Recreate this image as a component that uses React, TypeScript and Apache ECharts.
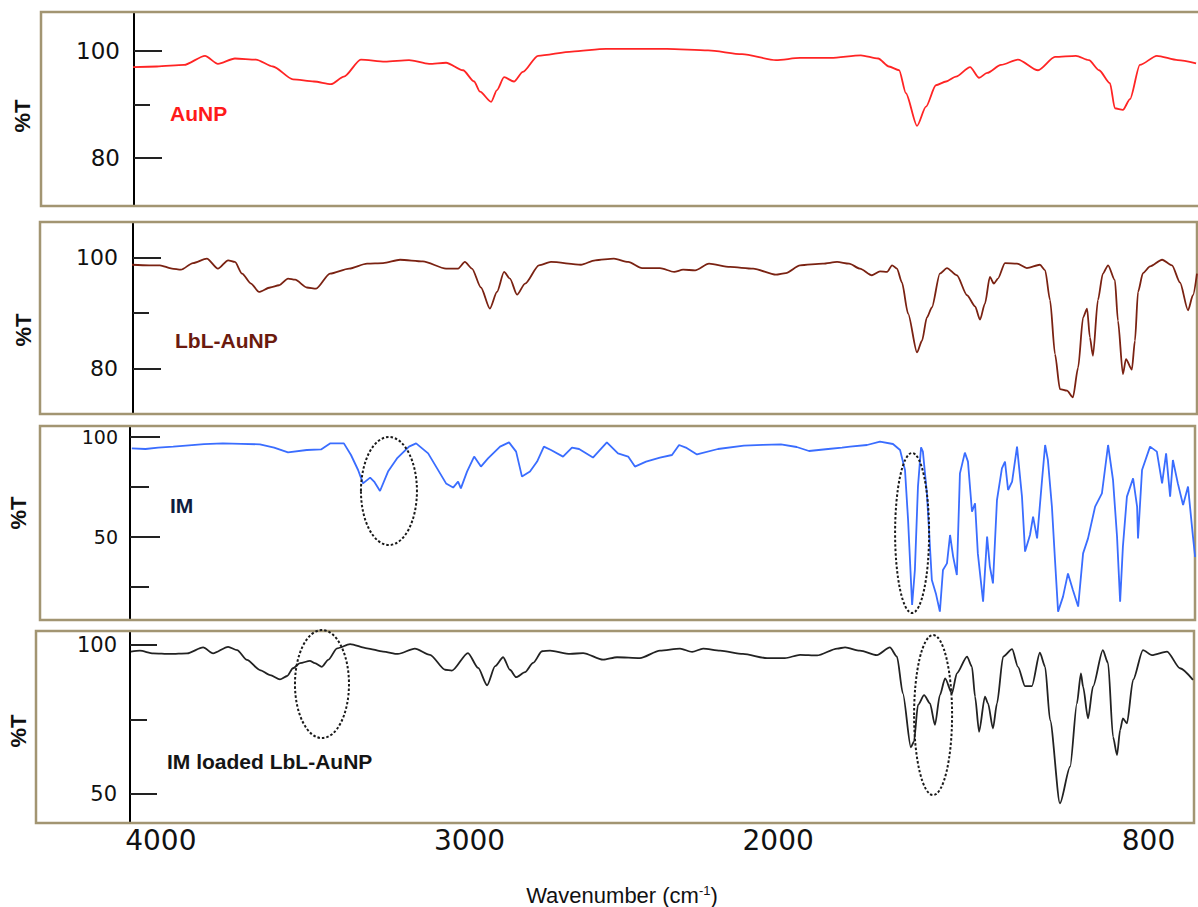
import React, { useEffect, useRef } from "react";
import * as echarts from "echarts";

// ---------- DATA (wavenumber cm-1, %T) ----------
const X_TICKS = [4000, 3000, 2000, 800];

const AUNP_TICKS_MAJOR = [80, 100];
const AUNP_TICKS_MINOR = [90];
const LBL_TICKS_MAJOR = [80, 100];
const LBL_TICKS_MINOR = [90];
const IM_TICKS_MAJOR = [50, 100];
const IM_TICKS_MINOR = [25, 75];
const IMLBL_TICKS_MAJOR = [50, 100];
const IMLBL_TICKS_MINOR = [75];

const auNP: [number, number][] = [
  [4090, 97.0], [4013, 97.1], [3925, 97.4], [3857, 99.1], [3815, 97.6], [3760, 98.6],
  [3692, 98.4], [3637, 97.1], [3572, 94.7], [3504, 94.3], [3449, 93.8], [3407, 95.2],
  [3352, 98.4], [3274, 98.0], [3196, 98.3], [3131, 97.6], [3076, 97.8], [3021, 96.4],
  [2985, 94.3], [2966, 92.4], [2930, 90.5], [2911, 92.7], [2888, 95.1], [2856, 94.3],
  [2827, 96.1], [2778, 99.1], [2668, 99.9], [2558, 100.4], [2360, 100.4], [2227, 100.1],
  [2117, 99.4], [2007, 98.3], [1929, 98.7], [1829, 98.7], [1732, 99.2], [1676, 98.6],
  [1641, 97.1], [1608, 96.4], [1586, 92.1], [1550, 86.0], [1521, 89.6], [1489, 93.6],
  [1456, 94.3], [1424, 95.2], [1378, 97.0], [1349, 95.0], [1323, 95.9], [1278, 97.4],
  [1223, 98.4], [1158, 96.4], [1103, 98.9], [1035, 99.1], [993, 98.3], [960, 96.4],
  [925, 94.0], [909, 89.3], [883, 89.0], [860, 91.0], [828, 97.4], [773, 99.1],
  [705, 98.3], [646, 97.7],
];

const lblAuNP: [number, number][] = [
  [4094, 98.7], [4038, 98.6], [4003, 98.6], [3964, 98.0], [3935, 97.8], [3896, 99.0],
  [3851, 99.8], [3815, 98.0], [3782, 99.5], [3760, 99.2], [3737, 97.1], [3708, 95.3],
  [3682, 93.8], [3646, 94.6], [3617, 95.0], [3588, 96.2], [3565, 96.0], [3527, 94.6],
  [3497, 94.4], [3452, 97.1], [3390, 98.0], [3332, 98.9], [3280, 99.0], [3225, 99.6],
  [3151, 99.3], [3076, 98.0], [3037, 98.0], [3015, 99.2], [2992, 98.0], [2963, 94.6],
  [2934, 90.8], [2911, 93.8], [2888, 97.4], [2869, 96.2], [2846, 93.3], [2820, 95.3],
  [2775, 98.6], [2736, 99.2], [2639, 98.7], [2593, 99.5], [2532, 99.8], [2486, 99.2],
  [2441, 98.1], [2383, 98.1], [2337, 97.4], [2308, 97.8], [2269, 97.7], [2224, 98.9],
  [2156, 98.3], [2081, 98.0], [2007, 96.9], [1975, 97.2], [1929, 98.6], [1855, 98.9],
  [1809, 99.2], [1770, 98.9], [1735, 98.0], [1696, 96.8], [1670, 97.5], [1647, 97.4],
  [1631, 98.6], [1615, 98.0], [1599, 95.5], [1579, 89.9], [1550, 82.9], [1534, 85.0],
  [1518, 89.2], [1502, 91.0], [1476, 97.1], [1453, 98.1], [1421, 96.8], [1388, 93.2],
  [1362, 91.2], [1346, 88.8], [1330, 91.7], [1314, 96.5], [1301, 95.3], [1288, 96.2],
  [1265, 99.0], [1226, 98.9], [1194, 98.1], [1152, 98.7], [1135, 97.7], [1119, 92.3],
  [1103, 82.6], [1087, 76.3], [1064, 76.0], [1045, 74.8], [1028, 80.2], [1012, 89.2],
  [999, 90.8], [990, 85.6], [980, 82.3], [964, 92.3], [948, 97.1], [931, 98.6],
  [909, 95.9], [899, 88.6], [883, 79.0], [873, 81.7], [854, 79.8], [844, 85.0],
  [834, 93.8], [818, 97.2], [795, 98.4], [756, 99.6], [724, 98.6], [698, 95.5],
  [672, 90.5], [656, 93.2], [643, 97.1],
];

const im: [number, number][] = [
  [4094, 94.3], [4050, 94.0], [4009, 94.7], [3960, 95.2], [3919, 95.7], [3860, 96.4],
  [3799, 96.8], [3740, 96.6], [3679, 96.3], [3633, 94.7],
  [3588, 92.3], [3527, 93.5], [3481, 93.8], [3452, 96.8], [3407, 96.8], [3384, 91.0],
  [3361, 83.5], [3345, 76.8], [3322, 79.7], [3309, 77.7], [3290, 73.0], [3264, 82.7],
  [3235, 89.3], [3196, 95.2], [3173, 96.8], [3134, 91.8], [3105, 84.3], [3076, 76.8],
  [3053, 74.7], [3037, 77.7], [3028, 74.3], [3008, 82.7], [2985, 90.2], [2963, 85.2],
  [2940, 89.3], [2901, 95.2], [2872, 97.3], [2849, 92.7], [2830, 80.2], [2804, 82.7],
  [2781, 87.7], [2759, 95.2], [2736, 93.5], [2697, 90.2], [2668, 94.7], [2645, 94.0],
  [2600, 89.7], [2555, 97.3], [2519, 91.8], [2486, 90.2], [2464, 85.2], [2428, 87.7],
  [2383, 89.7], [2344, 91.0], [2321, 96.0], [2299, 94.7], [2263, 91.3], [2195, 94.0],
  [2111, 95.7], [2050, 96.1], [1991, 96.3], [1940, 95.0], [1900, 93.0], [1838, 94.0],
  [1793, 94.7], [1767, 95.2],
  [1712, 96.0], [1670, 97.7], [1628, 96.5], [1605, 93.5], [1589, 83.5], [1579, 58.5],
  [1566, 16.0], [1557, 33.5], [1547, 75.2], [1537, 94.8], [1531, 92.7], [1518, 71.8],
  [1502, 28.5], [1489, 21.8], [1476, 12.7], [1466, 33.5], [1453, 36.8], [1443, 51.0],
  [1433, 40.2], [1421, 31.0], [1411, 81.8], [1395, 92.2], [1385, 87.7], [1372, 62.7],
  [1362, 66.8], [1353, 41.8], [1336, 17.7], [1323, 50.2], [1314, 35.2], [1304, 26.8],
  [1291, 68.5], [1275, 84.3], [1265, 87.7], [1255, 73.5], [1242, 77.7], [1226, 95.2],
  [1210, 70.2], [1200, 42.7], [1184, 51.0], [1174, 60.2], [1161, 49.3], [1145, 78.5],
  [1135, 96.0], [1126, 88.5], [1113, 65.2], [1103, 38.5], [1093, 12.7], [1077, 20.2],
  [1061, 31.8], [1045, 23.5], [1028, 15.2], [1012, 41.8], [996, 49.3], [973, 65.2],
  [951, 71.8], [931, 96.0], [915, 78.5], [902, 50.2], [892, 17.7], [883, 45.2],
  [870, 70.2], [850, 79.3], [837, 65.2], [834, 49.3], [821, 83.5], [795, 95.2],
  [773, 92.7], [756, 76.8], [743, 91.8], [730, 70.2], [721, 88.5], [705, 76.8],
  [688, 66.0], [672, 75.2], [656, 50.2], [649, 40.0],
];

const imLbL: [number, number][] = [
  [4097, 97.8], [4068, 98.1], [4025, 97.2], [3970, 97.0], [3915, 97.2], [3863, 99.2],
  [3831, 97.2], [3782, 99.4], [3753, 98.3], [3721, 95.0], [3679, 91.6], [3646, 89.9],
  [3614, 88.5], [3591, 89.6], [3572, 92.2], [3549, 93.9], [3517, 94.7], [3501, 93.9],
  [3478, 92.7], [3458, 95.0], [3429, 98.9], [3387, 100.3], [3332, 98.9], [3280, 97.8],
  [3232, 97.0], [3177, 98.8], [3128, 96.7], [3079, 91.7], [3057, 91.4], [3005, 97.3],
  [2972, 92.3], [2943, 86.5], [2917, 92.9], [2891, 95.9], [2869, 91.7], [2849, 89.2],
  [2820, 90.9], [2794, 94.0], [2765, 97.9], [2739, 98.1], [2674, 97.0], [2632, 97.3],
  [2567, 95.1], [2522, 95.9], [2448, 95.6], [2383, 98.1], [2318, 98.8], [2279, 97.7],
  [2243, 98.8], [2188, 98.1], [2114, 97.0], [2036, 95.6], [1978, 95.6], [1929, 96.7],
  [1874, 96.5], [1809, 98.8], [1783, 99.2], [1735, 98.1], [1680, 96.6], [1638, 99.2],
  [1615, 96.1], [1596, 83.8], [1570, 65.7], [1560, 67.6], [1547, 79.9], [1527, 83.2],
  [1508, 80.4], [1492, 73.2], [1476, 83.2], [1459, 88.8], [1437, 83.8], [1421, 90.5],
  [1388, 96.1], [1372, 92.7], [1362, 82.7], [1349, 70.9], [1330, 82.7], [1320, 80.4],
  [1304, 72.0], [1291, 80.4], [1271, 96.1], [1242, 98.6], [1223, 92.7], [1200, 86.2],
  [1178, 86.2], [1152, 97.4], [1135, 92.7], [1119, 74.8], [1087, 46.9], [1054, 59.2],
  [1032, 80.4], [1019, 90.5], [1012, 86.0], [996, 75.4], [980, 86.0], [948, 98.3],
  [931, 93.9], [915, 69.2], [902, 63.1], [892, 71.5], [883, 75.4], [870, 73.7],
  [850, 88.3], [818, 98.3], [789, 96.6], [740, 97.8], [698, 92.2], [656, 88.3],
];

// annotation ellipses, centred in data coordinates
const ELLIPSES = [
  { panel: 2, wn: 3261, t: 73.0, rx: 28, ry: 54 },
  { panel: 2, wn: 1566, t: 52.0, rx: 17, ry: 80 },
  { panel: 3, wn: 3478, t: 86.9, rx: 27, ry: 54 },
  { panel: 3, wn: 1498, t: 76.5, rx: 19, ry: 80 },
];

// ---------- LAYOUT ----------
const WN_AT_X130 = 4100;
const WN_PER_PX = 3.24;

const PANELS = [
  {
    name: "AuNP", data: auNP, color: "#ff2424", labelColor: "#ff1a1a",
    left: 134, right: 1198, top: 12, bottom: 206, ymin: 71.03, ymax: 107.29,
    major: AUNP_TICKS_MAJOR, minor: AUNP_TICKS_MINOR, majorLen: 28, minorLen: 16,
    yFont: 23, yMargin: 14, frame: [41, 12, 1170, 194], pctT: [22, 116],
    label: [170, 113], smooth: 0.25,
  },
  {
    name: "LbL-AuNP", data: lblAuNP, color: "#7a2212", labelColor: "#6b1a0e",
    left: 133, right: 1197, top: 222, bottom: 414, ymin: 71.8, ymax: 106.4,
    major: LBL_TICKS_MAJOR, minor: LBL_TICKS_MINOR, majorLen: 28, minorLen: 16,
    yFont: 22, yMargin: 15, frame: [40, 222, 1157, 192], pctT: [23, 330],
    label: [175, 340], smooth: 0.25,
  },
  {
    name: "IM", data: im, color: "#3a6dff", labelColor: "#0f1c3f",
    left: 130, right: 1195, top: 426, bottom: 620, ymin: 8.5, ymax: 105.5,
    major: IM_TICKS_MAJOR, minor: IM_TICKS_MINOR, majorLen: 30, minorLen: 19,
    yFont: 19, yMargin: 12, frame: [40, 426, 1155, 194], pctT: [18, 513],
    label: [170, 505], smooth: false,
  },
  {
    name: "IM loaded LbL-AuNP", data: imLbL, color: "#222222", labelColor: "#151515",
    left: 130, right: 1194, top: 631, bottom: 823, ymin: 40.3, ymax: 104.7,
    major: IMLBL_TICKS_MAJOR, minor: IMLBL_TICKS_MINOR, majorLen: 27, minorLen: 17,
    yFont: 21, yMargin: 13, frame: [36, 631, 1158, 192], pctT: [18, 731],
    label: [167, 761], smooth: 0.25,
  },
];

const FRAME_COLOR = "#a29572";

function buildOption() {
  const grid: any[] = [];
  const xAxis: any[] = [];
  const yAxis: any[] = [];
  const series: any[] = [];
  PANELS.forEach((p, i) => {
    grid.push({ left: p.left, top: p.top, width: p.right - p.left, height: p.bottom - p.top, show: false });
    xAxis.push({
      type: "value",
      gridIndex: i,
      inverse: true,
      min: WN_AT_X130 - (p.right - 130) * WN_PER_PX,
      max: WN_AT_X130 - (p.left - 130) * WN_PER_PX,
      axisLine: { show: false },
      axisTick: { show: false },
      splitLine: { show: false },
      axisLabel:
        i === PANELS.length - 1
          ? {
              show: true,
              customValues: X_TICKS,
              formatter: (v: number) => String(Math.round(v)),
              fontSize: 28,
              fontFamily: "DejaVu Sans",
              color: "#111",
              margin: 3,
            }
          : { show: false },
    });
    yAxis.push({
      type: "value",
      gridIndex: i,
      position: "left",
      min: p.ymin,
      max: p.ymax,
      axisLine: { show: true, onZero: false, lineStyle: { color: "#000", width: 2 } },
      axisTick: { show: true, inside: true, length: p.majorLen, customValues: p.major, lineStyle: { color: "#222", width: 2 } },
      axisLabel: {
        show: true,
        customValues: p.major,
        formatter: (v: number) => String(Math.round(v)),
        margin: p.yMargin,
        fontSize: p.yFont,
        fontFamily: "DejaVu Sans",
        color: "#111",
      },
      splitLine: { show: false },
    });
    yAxis.push({
      type: "value",
      gridIndex: i,
      position: "left",
      offset: 0,
      min: p.ymin,
      max: p.ymax,
      axisLine: { show: false },
      axisTick: { show: true, inside: true, length: p.minorLen, customValues: p.minor, lineStyle: { color: "#222", width: 2 } },
      axisLabel: { show: false },
      splitLine: { show: false },
    });
    series.push({
      type: "line",
      name: p.name,
      xAxisIndex: i,
      yAxisIndex: i * 2,
      data: p.data,
      showSymbol: false,
      smooth: p.smooth,
      smoothMonotone: "x",
      lineStyle: { color: p.color, width: 1.8 },
      z: 5,
    });
  });
  return {
    animation: false,
    backgroundColor: "#ffffff",
    grid,
    xAxis,
    yAxis,
    series,
  };
}

export default function App() {
  const ref = useRef<HTMLDivElement>(null);
  useEffect(() => {
    document.body.style.margin = "0";
    if (!ref.current) return;
    const chart = echarts.init(ref.current, null, { renderer: "svg" });
    chart.setOption(buildOption());

    const graphics: any[] = [];
    PANELS.forEach((p) => {
      const [fx, fy, fw, fh] = p.frame;
      graphics.push({
        type: "rect",
        shape: { x: fx, y: fy, width: fw, height: fh },
        style: { fill: "none", stroke: FRAME_COLOR, lineWidth: 2.5 },
        z: 1,
        silent: true,
      });
      graphics.push({
        type: "text",
        x: p.pctT[0],
        y: p.pctT[1],
        rotation: Math.PI / 2,
        style: {
          text: "%T",
          fontSize: 22,
          fontWeight: "bold",
          fontFamily: "Liberation Sans, Arial, sans-serif",
          fill: "#111",
          align: "center",
          verticalAlign: "middle",
        },
        z: 10,
      });
      graphics.push({
        type: "text",
        x: p.label[0],
        y: p.label[1],
        style: {
          text: p.name,
          fontSize: 21,
          fontWeight: "bold",
          fontFamily: "Liberation Sans, Arial, sans-serif",
          fill: p.labelColor,
          align: "left",
          verticalAlign: "middle",
        },
        z: 10,
      });
    });
    graphics.push({
      type: "text",
      x: 622,
      y: 895,
      style: {
        text: "Wavenumber (cm{s|-1})",
        fontSize: 22,
        fontFamily: "Liberation Sans, Arial, sans-serif",
        fill: "#111",
        align: "center",
        verticalAlign: "middle",
        rich: {
          s: { fontSize: 13, verticalAlign: "top", fontFamily: "Liberation Sans, Arial, sans-serif", fill: "#111" },
        },
      },
      z: 10,
    });
    ELLIPSES.forEach((e) => {
      const pt = chart.convertToPixel({ xAxisIndex: e.panel, yAxisIndex: e.panel * 2 } as any, [e.wn, e.t]) as number[];
      graphics.push({
        type: "ellipse",
        shape: { cx: pt[0], cy: pt[1], rx: e.rx, ry: e.ry },
        style: { fill: "none", stroke: "#1a1a1a", lineWidth: 2, lineDash: [2.5, 2] },
        z: 20,
        silent: true,
      });
    });
    chart.setOption({ graphic: graphics });
    return () => chart.dispose();
  }, []);
  return <div ref={ref} style={{ width: 1198, height: 907 }} />;
}
